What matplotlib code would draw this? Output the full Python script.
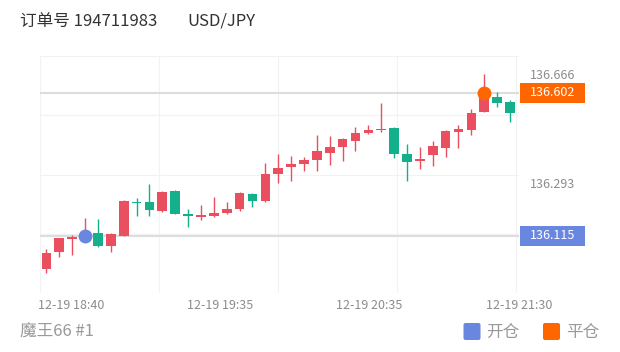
import numpy as np
import matplotlib
matplotlib.use("Agg")
import matplotlib.pyplot as plt
from matplotlib.patches import Rectangle, FancyBboxPatch
from matplotlib.transforms import blended_transform_factory

plt.rcParams['font.family'] = ['Noto Sans CJK SC', 'DejaVu Sans']

# 5-minute candles, 12-19 18:30 .. 21:30
opens = [136.002, 136.059, 136.105, 136.110, 136.123, 136.079, 136.115, 136.231, 136.230, 136.199,
         136.268, 136.188, 136.179, 136.183, 136.193, 136.205, 136.258, 136.233, 136.324, 136.348,
         136.359, 136.373, 136.396, 136.416, 136.439, 136.464, 136.474, 136.481, 136.392, 136.369,
         136.391, 136.415, 136.469, 136.475, 136.535, 136.588, 136.570]
closes = [136.057, 136.106, 136.111, 136.116, 136.079, 136.120, 136.234, 136.226, 136.201, 136.265,
          136.190, 136.181, 136.185, 136.193, 136.205, 136.261, 136.234, 136.324, 136.345, 136.360,
          136.373, 136.402, 136.418, 136.444, 136.464, 136.476, 136.479, 136.392, 136.365, 136.377,
          136.420, 136.472, 136.478, 136.534, 136.602, 136.568, 136.532]
highs = [136.070, 136.108, 136.117, 136.174, 136.172, 136.123, 136.237, 136.242, 136.291, 136.267,
         136.271, 136.205, 136.221, 136.247, 136.230, 136.264, 136.260, 136.362, 136.393, 136.385,
         136.384, 136.458, 136.455, 136.447, 136.486, 136.492, 136.566, 136.485, 136.427, 136.418,
         136.439, 136.475, 136.491, 136.545, 136.666, 136.605, 136.577]
lows = [135.987, 136.041, 136.049, 136.107, 136.077, 136.060, 136.115, 136.183, 136.183, 136.195,
        136.189, 136.146, 136.168, 136.180, 136.190, 136.200, 136.212, 136.231, 136.294, 136.301,
        136.334, 136.336, 136.355, 136.370, 136.402, 136.460, 136.469, 136.378, 136.301, 136.341,
        136.351, 136.384, 136.415, 136.457, 136.535, 136.552, 136.502]

x_labels = ["12-19 18:40", "12-19 19:35", "12-19 20:35", "12-19 21:30"]
x_label_pos = [1.9, 13.5, 25.1, 36.7]
y_labels = [136.293, 136.666]
y_min, y_max = 135.920, 136.727

open_idx, open_price = 3, 136.115
close_idx, close_price = 34, 136.602

up_color = "#ea4f5f"
down_color = "#14b08c"
open_color = "#6a87e0"
close_color = "#ff6600"

fig = plt.figure(figsize=(6.2, 3.52), dpi=100)
ax = fig.add_axes([40 / 620, 59 / 352, 479 / 620, 237 / 352])

n = len(opens)
xs = np.arange(n)
o = np.array(opens)
c = np.array(closes)
colors = [up_color if cc >= oo else down_color for oo, cc in zip(o, c)]

# grid
for gy in np.linspace(y_min, y_max, 5):
    ax.axhline(gy, color="#f2f2f2", lw=0.8, zorder=0)
for gx in np.linspace(-0.5, n - 0.5, 5):
    ax.axvline(gx, color="#f2f2f2", lw=0.8, zorder=0)

# position lines
ax.axhline(open_price, color="#dddddd", lw=1.5, zorder=1)
ax.axhline(close_price, color="#dddddd", lw=1.5, zorder=1)

ax.vlines(xs, lows, highs, colors=colors, lw=1.0, zorder=2)
bottoms = np.minimum(o, c)
heights = np.maximum(np.abs(c - o), 0.005)
ax.bar(xs, heights, bottom=bottoms, width=0.75, color=colors, zorder=3)

ax.plot([open_idx], [open_price], "o", color=open_color, ms=9, zorder=4)
ax.plot([close_idx], [close_price], "o", color=close_color, ms=9, zorder=4)

ax.set_xlim(-0.5, n - 0.5)
ax.set_ylim(y_min, y_max)
for s in ax.spines.values():
    s.set_visible(False)

ax.set_xticks(x_label_pos)
ax.set_xticklabels(x_labels)
ax.tick_params(axis="x", length=0, pad=4, labelsize=9, labelcolor="#8c8c8c")
ax.yaxis.tick_right()
ax.set_yticks(y_labels)
ax.set_yticklabels([f"{v:.3f}" for v in y_labels])
ax.tick_params(axis="y", length=0, pad=8, labelsize=9, labelcolor="#8c8c8c")

# value tags on right
trans = blended_transform_factory(ax.transAxes, ax.transData)
tag_h = 20 / 293.6
for price, col in [(close_price, close_color), (open_price, open_color)]:
    ax.add_patch(Rectangle((1.002, price - tag_h / 2), 65 / 479, tag_h, transform=trans,
                           facecolor=col, edgecolor="none", clip_on=False, zorder=5))
    ax.text(1.023, price, f"{price:.3f}", transform=trans, color="white", fontsize=9,
            ha="left", va="center", clip_on=False, zorder=6)

# title and footer
fig.text(20 / 620, 1 - 21 / 352, "订单号 194711983", fontsize=12, color="#333333", va="center")
fig.text(187 / 620, 1 - 21 / 352, "USD/JPY", fontsize=12, color="#333333", va="center")
fig.text(20 / 620, 1 - 332 / 352, "魔王66 #1", fontsize=12, color="#999999", va="center")

for x0, col, label in [(463.5, open_color, "开仓"), (543, close_color, "平仓")]:
    fig.add_artist(FancyBboxPatch((x0 / 100, (352 - 340) / 100), 0.17, 0.17,
                                  boxstyle="round,pad=0,rounding_size=0.02",
                                  transform=fig.dpi_scale_trans, facecolor=col, edgecolor="none"))
    fig.text((x0 + 23) / 100, (352 - 332) / 100, label, transform=fig.dpi_scale_trans,
             fontsize=12, color="#999999", va="center")

fig.savefig("out.png", dpi=100)
